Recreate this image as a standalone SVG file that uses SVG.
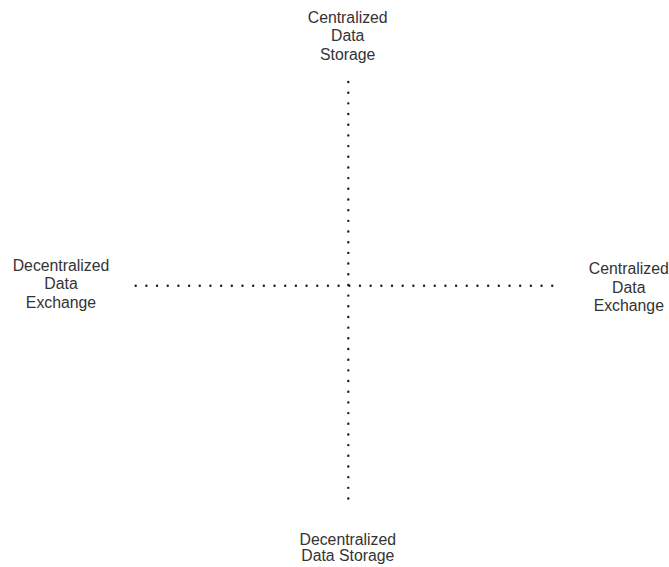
<svg xmlns="http://www.w3.org/2000/svg" width="669" height="567" viewBox="0 0 669 567">
  <style>
    .axis { fill: none; stroke: #1a1a1a; stroke-width: 2.4; stroke-linecap: round; stroke-dasharray: 0 10.68; }
    .label { font-family: "Liberation Sans", Arial, sans-serif; font-size: 15.8px; fill: #333333; text-anchor: middle; }
  </style>
  <rect width="669" height="567" fill="#ffffff"/>
  <g id="connectors">
    <line class="axis" x1="348.3" y1="82" x2="348.3" y2="499"/>
    <line class="axis" x1="135.7" y1="285.7" x2="553.2" y2="285.7"/>
  </g>
  <g id="centralized-storage">
    <text class="label" x="347.7" y="22.7">Centralized</text>
    <text class="label" x="347.7" y="41.2">Data</text>
    <text class="label" x="347.7" y="59.5">Storage</text>
  </g>
  <g id="decentralized-exchange">
    <text class="label" x="61" y="270.7">Decentralized</text>
    <text class="label" x="61" y="289.3">Data</text>
    <text class="label" x="61" y="308">Exchange</text>
  </g>
  <g id="centralized-exchange">
    <text class="label" x="628.8" y="274.3">Centralized</text>
    <text class="label" x="628.8" y="292.8">Data</text>
    <text class="label" x="628.8" y="311.3">Exchange</text>
  </g>
  <g id="decentralized-storage">
    <text class="label" x="347.8" y="545">Decentralized</text>
    <text class="label" x="347.8" y="561">Data Storage</text>
  </g>
</svg>
